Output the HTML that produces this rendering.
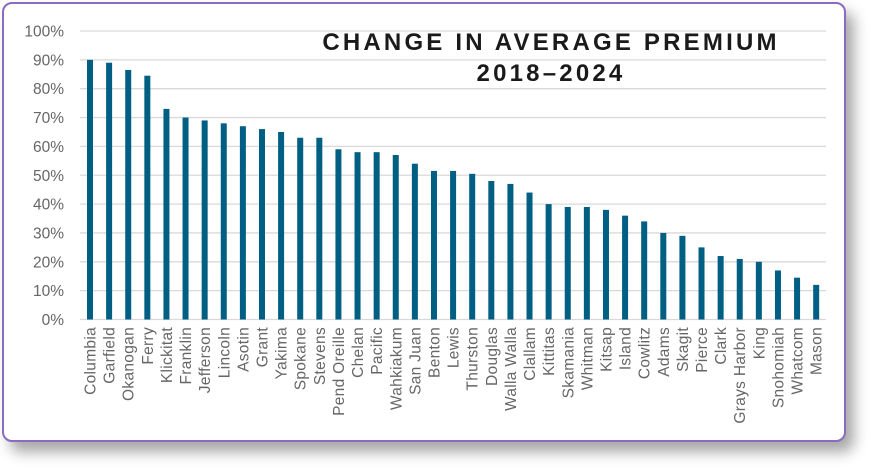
<!DOCTYPE html>
<html><head><style>
body{margin:0;background:#fff;width:873px;height:468px;overflow:hidden;font-family:"Liberation Sans",sans-serif}
.frame{position:absolute;left:2px;top:2px;width:840px;height:436px;border:2px solid #8a6bbf;border-radius:10px;box-shadow:8px 10px 14px rgba(0,0,0,0.35);background:#fff}
</style></head><body>
<div class="frame"></div>
<svg width="873" height="468" style="position:absolute;left:0;top:0" font-family="Liberation Sans, sans-serif">
<g id="grid" stroke="#d9d9d9" stroke-width="1.3"></g>
<g id="yl" fill="#666" font-size="15.5" text-anchor="end"></g>
<g id="bars" fill="#005f83"></g>
<g id="xl" fill="#666" font-size="15.5" text-anchor="end" letter-spacing="0.3"></g>
<text x="551" y="50" text-anchor="middle" font-size="24" font-weight="bold" letter-spacing="3.2" fill="#1a1a1a">CHANGE IN AVERAGE PREMIUM</text>
<text x="551" y="81" text-anchor="middle" font-size="24" font-weight="bold" letter-spacing="3.2" fill="#1a1a1a">2018–2024</text>
</svg>
<script>
var d=[["Columbia",90],["Garfield",89],["Okanogan",86.5],["Ferry",84.5],["Klickitat",73],["Franklin",70],["Jefferson",69],["Lincoln",68],["Asotin",67],["Grant",66],["Yakima",65],["Spokane",63],["Stevens",63],["Pend Oreille",59],["Chelan",58],["Pacific",58],["Wahkiakum",57],["San Juan",54],["Benton",51.5],["Lewis",51.5],["Thurston",50.5],["Douglas",48],["Walla Walla",47],["Clallam",44],["Kittitas",40],["Skamania",39],["Whitman",39],["Kitsap",38],["Island",36],["Cowlitz",34],["Adams",30],["Skagit",29],["Pierce",25],["Clark",22],["Grays Harbor",21],["King",20],["Snohomiah",17],["Whatcom",14.5],["Mason",12]];
var ns="http://www.w3.org/2000/svg";function el(t,a,p,txt){var e=document.createElementNS(ns,t);for(var k in a)e.setAttribute(k,a[k]);if(txt)e.textContent=txt;document.getElementById(p).appendChild(e);}
var y0=319.5,s=2.885;
for(var i=0;i<=10;i++){var y=y0-i*10*s;el("line",{x1:80,x2:826,y1:y,y2:y},"grid");el("text",{x:64,y:y+5.5},"yl",(i*10)+"%");}
d.forEach(function(v,i){var cx=90+i*19.11;el("rect",{x:cx-3,y:y0-v[1]*s,width:6,height:v[1]*s},"bars");el("text",{x:0,y:0,transform:"translate("+(cx+5.5)+",327) rotate(-90)"},"xl",v[0]);});
</script>
</body></html>
